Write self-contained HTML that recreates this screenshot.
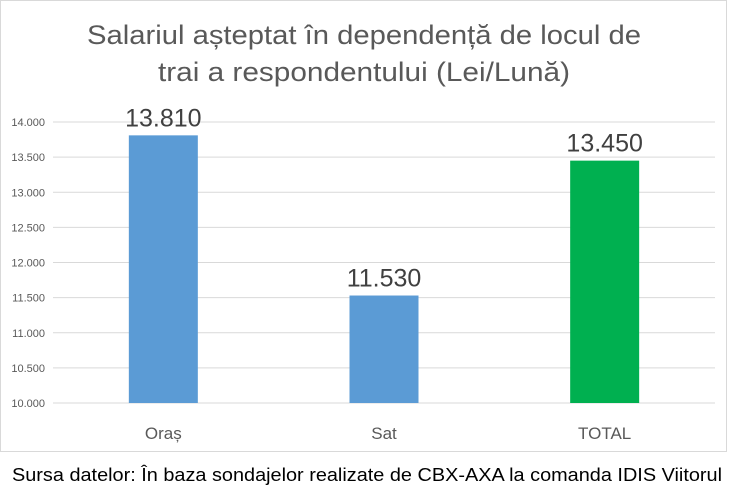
<!DOCTYPE html>
<html><head><meta charset="utf-8"><style>
body{margin:0;background:#fff;font-family:"Liberation Sans",sans-serif;}
#wrap{position:relative;width:731px;height:498px;overflow:hidden;}
</style></head><body>
<div id="wrap">
<svg width="731" height="498" id="chart">
<rect x="0.5" y="0.5" width="726" height="451" fill="#fff" stroke="#d9d9d9"/>
<text x="87" y="44" textLength="554" lengthAdjust="spacingAndGlyphs" font-size="27" fill="#595959">Salariul așteptat în dependență de locul de</text>
<text x="158" y="81" textLength="412" lengthAdjust="spacingAndGlyphs" font-size="27" fill="#595959">trai a respondentului (Lei/Lună)</text>
<g id="grid"></g><g id="bars"></g>
<text x="12" y="481" textLength="710" lengthAdjust="spacingAndGlyphs" font-size="18" fill="#000">Sursa datelor: În baza sondajelor realizate de CBX-AXA la comanda IDIS Viitorul</text>
</svg>
</div>
<script>
const categories=["Oraș","Sat","TOTAL"];
const values=[13810,11530,13450];
const valueLabels=["13.810","11.530","13.450"];
const colors=["#5b9bd5","#5b9bd5","#00b050"];
const ticks=[10000,10500,11000,11500,12000,12500,13000,13500,14000];
const tickLabels=["10.000","10.500","11.000","11.500","12.000","12.500","13.000","13.500","14.000"];
const NS="http://www.w3.org/2000/svg";
const x0=53,x1=715,yMin=10000,yMax=14000,yB=403,yT=122;
const y=v=>yB-(v-yMin)/(yMax-yMin)*(yB-yT);
const band=(x1-x0)/categories.length;
const xc=i=>x0+band*(i+0.5);
function mk(t,a,p){const e=document.createElementNS(NS,t);for(const k in a)e.setAttribute(k,a[k]);p.appendChild(e);return e;}
const g=document.getElementById('grid'),b=document.getElementById('bars');
ticks.forEach((t,i)=>{
 const l=mk('line',{x1:x0,x2:x1,y1:y(t),y2:y(t),stroke:'#d9d9d9','stroke-width':1},g);
 
 
 const tx=mk('text',{x:45,y:y(t)+4,'text-anchor':'end','font-size':11,fill:'#595959'},g);
 tx.textContent=tickLabels[i];
 
 
});
categories.forEach((c,i)=>{
 const w=69;
 const r=mk('rect',{x:xc(i)-w/2,y:y(values[i]),width:w,height:yB-y(values[i]),fill:colors[i]},b);
 
 
 const vl=mk('text',{x:xc(i),y:y(values[i])-9,'text-anchor':'middle','font-size':25,fill:'#404040'},b);
 vl.textContent=valueLabels[i];
 
 
 const cl=mk('text',{x:xc(i),y:439,'text-anchor':'middle','font-size':17,fill:'#595959'},b);
 cl.textContent=c;
 
 
});
</script>
</body></html>
